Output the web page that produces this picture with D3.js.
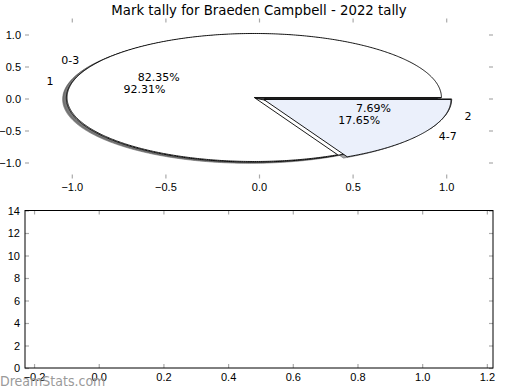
<!DOCTYPE html>
<html>
<head>
<meta charset="utf-8">
<script src="https://cdn.jsdelivr.net/npm/d3@7"></script>
<style>
  body { margin: 0; background: #fff; }
  svg { display: block; font-family: "DejaVu Sans", sans-serif; }
</style>
</head>
<body>
<div id="chart"></div>
<script>
// pie A (mark ranges) and pie B (marks), both drawn in the same axes
const pieALabels = ["0-3", "4-7"];
const pieAValues = [14, 3];
const pieBLabels = ["1", "2"];
const pieBValues = [12, 1];

const pieTicks = [-1.0, -0.5, 0.0, 0.5, 1.0];
const barXTicks = [-0.2, 0.0, 0.2, 0.4, 0.6, 0.8, 1.0, 1.2];
const barYTicks = [0, 2, 4, 6, 8, 10, 12, 14];

const width = 520;
const height = 390;
const explode = 0.03;
const wedgeColors = ["#ffffff", "#ebf0fb"];

const svg = d3.select("#chart").append("svg")
    .attr("width", width)
    .attr("height", height);

svg.append("text")
    .attr("x", 259)
    .attr("y", 15)
    .attr("text-anchor", "middle")
    .style("font-size", "13.3px")
    .text("Mark tally for Braeden Campbell - 2022 tally");

// ---- top axes: the pies ----
const x = d3.scaleLinear().domain([-1.25, 1.25]).range([25, 493]);
const y = d3.scaleLinear().domain([-1.25, 1.25]).range([178.5, 18.5]);

function inTicks(g) {
    g.select(".domain").remove();
    g.selectAll(".tick line").attr("stroke", "#aaa").attr("stroke-width", 1.2);
    g.selectAll(".tick text").style("font-size", "11px").attr("fill", "#000");
}

const fmt1 = d3.format(".1f");
svg.append("g").attr("transform", "translate(0,178.5)")
    .call(d3.axisBottom(x).tickValues(pieTicks).tickFormat(fmt1).tickSize(-4).tickPadding(5))
    .call(inTicks);
svg.append("g").attr("transform", "translate(0,18.5)")
    .call(d3.axisTop(x).tickValues(pieTicks).tickFormat("").tickSize(-4))
    .call(inTicks);
svg.append("g").attr("transform", "translate(25,0)")
    .call(d3.axisLeft(y).tickValues(pieTicks).tickFormat(fmt1).tickSize(-4).tickPadding(4))
    .call(inTicks);
svg.append("g").attr("transform", "translate(493,0)")
    .call(d3.axisRight(y).tickValues(pieTicks).tickFormat("").tickSize(-4))
    .call(inTicks);

const pie = d3.pie().sort(null).startAngle(0).endAngle(2 * Math.PI);
const line = d3.line().x(d => x(d[0])).y(d => y(d[1]));

function wedgePoints(cx, cy, a0, a1) {
    const pts = [[cx, cy]];
    const n = Math.max(8, Math.ceil((a1 - a0) / 0.01));
    for (let i = 0; i <= n; i++) {
        const a = a0 + (a1 - a0) * i / n;
        pts.push([cx + Math.cos(a), cy + Math.sin(a)]);
    }
    pts.push([cx, cy]);
    return pts;
}

function buildWedges(values, labels) {
    return pie(values).map((d, i) => {
        const mid = (d.startAngle + d.endAngle) / 2;
        const cx = explode * Math.cos(mid);
        const cy = explode * Math.sin(mid);
        return {
            label: labels[i],
            pct: (100 * d.value / d3.sum(values)).toFixed(2) + "%",
            color: wedgeColors[i],
            cx: cx, cy: cy, mid: mid,
            pts: wedgePoints(cx, cy, d.startAngle, d.endAngle)
        };
    });
}

const wedges = buildWedges(pieBValues, pieBLabels).concat(buildWedges(pieAValues, pieALabels));

// shadows sit under every wedge
const shadows = svg.append("g").attr("class", "shadows");
wedges.forEach(w => {
    const c = d3.rgb(w.color);
    const sc = d3.rgb(c.r * 0.3, c.g * 0.3, c.b * 0.3);
    shadows.append("path")
        .attr("d", line(w.pts.map(p => [p[0] - 0.02, p[1] - 0.02])))
        .attr("fill", sc)
        .attr("fill-opacity", 0.5)
        .attr("stroke", sc)
        .attr("stroke-opacity", 0.5)
        .attr("stroke-width", 1);
});

const slices = svg.append("g").attr("class", "wedges");
wedges.forEach(w => {
    slices.append("path")
        .attr("d", line(w.pts))
        .attr("fill", w.color)
        .attr("stroke", "#000")
        .attr("stroke-width", 0.9)
        .attr("stroke-linejoin", "round");
});

const texts = svg.append("g").attr("class", "labels").style("font-size", "11px");
wedges.forEach(w => {
    const lx = w.cx + 1.1 * Math.cos(w.mid);
    const ly = w.cy + 1.1 * Math.sin(w.mid);
    texts.append("text")
        .attr("x", x(lx))
        .attr("y", y(ly))
        .attr("dy", "0.35em")
        .attr("text-anchor", lx > 0 ? "start" : "end")
        .text(w.label);
    texts.append("text")
        .attr("x", x(w.cx + 0.6 * Math.cos(w.mid)))
        .attr("y", y(w.cy + 0.6 * Math.sin(w.mid)))
        .attr("dy", "0.35em")
        .attr("text-anchor", "middle")
        .text(w.pct);
});

// ---- bottom axes: empty ----
const bx = d3.scaleLinear().domain([-0.228, 1.219]).range([25, 493]);
const by = d3.scaleLinear().domain([0, 14]).range([368, 210.5]);

svg.append("g").attr("transform", "translate(0,368)")
    .call(d3.axisBottom(bx).tickValues(barXTicks).tickFormat(fmt1).tickSize(-4).tickPadding(5))
    .call(inTicks);
svg.append("g").attr("transform", "translate(0,210.5)")
    .call(d3.axisTop(bx).tickValues(barXTicks).tickFormat("").tickSize(-4))
    .call(inTicks);
svg.append("g").attr("transform", "translate(25,0)")
    .call(d3.axisLeft(by).tickValues(barYTicks).tickFormat(d3.format("d")).tickSize(-4).tickPadding(5))
    .call(inTicks);
svg.append("g").attr("transform", "translate(493,0)")
    .call(d3.axisRight(by).tickValues(barYTicks).tickFormat("").tickSize(-4))
    .call(inTicks);

svg.append("rect")
    .attr("x", 25).attr("y", 210.5)
    .attr("width", 468).attr("height", 157.5)
    .attr("fill", "none")
    .attr("stroke", "#000")
    .attr("stroke-width", 1);

// watermark
svg.append("text")
    .attr("x", 0)
    .attr("y", 386)
    .attr("fill", "#9a9a9a")
    .style("font-family", "'DejaVu Sans Condensed', 'DejaVu Sans', sans-serif")
    .style("font-stretch", "condensed")
    .style("font-size", "14px")
    .text("DreamStats.com");
</script>
</body>
</html>
